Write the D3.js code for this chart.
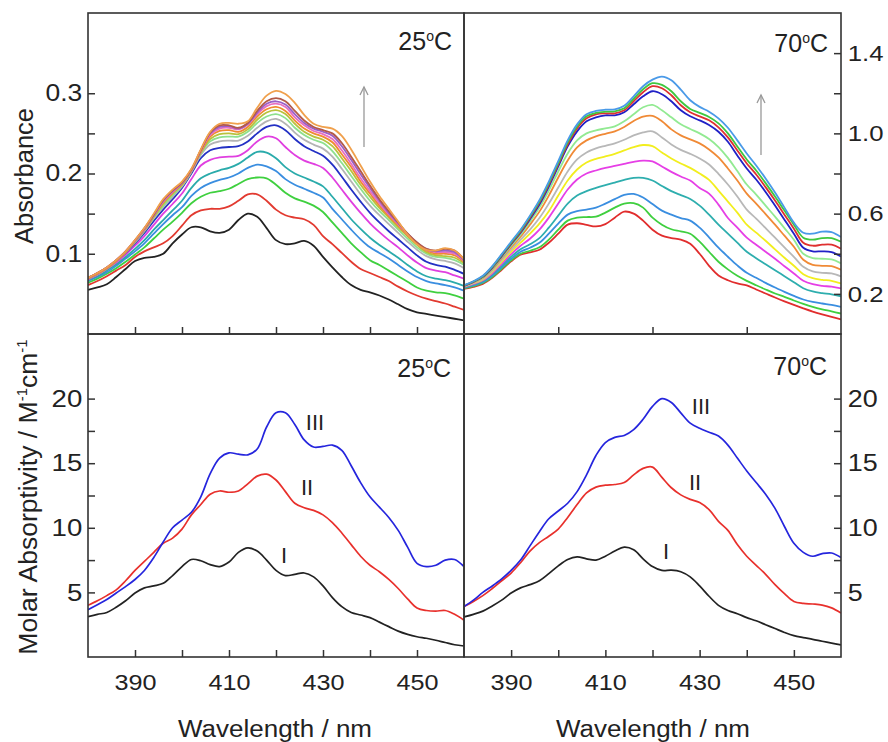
<!DOCTYPE html>
<html>
<head>
<meta charset="utf-8">
<script src="https://cdn.jsdelivr.net/npm/d3@7"></script>
<style>
  body { margin: 0; background: #fff; }
  text { font-family: "Liberation Sans", Arial, sans-serif; fill: #222; }
</style>
</head>
<body>
<svg id="chart" width="888" height="742"></svg>
<script>
// wavelength grid (nm)
var wavelength = [380,382,384,386,388,390,392,394,396,398,400,402,404,406,408,410,412,414,416,418,420,
                  422,424,426,428,430,432,434,436,438,440,442,444,446,448,450,452,454,456,458,460];

// ---- 25 C absorbance spectra (top left) ----
var a25_black = [0.055,0.058,0.062,0.071,0.081,0.091,0.095,0.096,0.100,0.113,0.124,0.133,0.133,0.128,0.126,0.130,0.142,0.150,0.146,0.132,0.117,0.112,0.113,0.116,0.110,0.096,0.083,0.071,0.061,0.055,0.052,0.048,0.043,0.037,0.031,0.027,0.025,0.023,0.021,0.019,0.017];
var a25_red = [0.061,0.066,0.072,0.079,0.086,0.096,0.103,0.108,0.113,0.122,0.135,0.148,0.154,0.156,0.156,0.159,0.166,0.174,0.174,0.166,0.155,0.148,0.145,0.143,0.136,0.122,0.112,0.101,0.090,0.081,0.076,0.071,0.066,0.059,0.053,0.048,0.044,0.041,0.038,0.034,0.030];
var a25_green = [0.064,0.069,0.075,0.082,0.090,0.099,0.108,0.119,0.130,0.140,0.151,0.163,0.171,0.176,0.178,0.181,0.187,0.193,0.195,0.194,0.186,0.176,0.169,0.165,0.160,0.152,0.139,0.126,0.113,0.102,0.092,0.086,0.079,0.072,0.065,0.058,0.054,0.052,0.051,0.048,0.044];
var a25_steel = [0.066,0.071,0.077,0.085,0.094,0.103,0.113,0.125,0.137,0.148,0.158,0.172,0.182,0.188,0.192,0.195,0.200,0.207,0.211,0.209,0.203,0.193,0.186,0.181,0.176,0.170,0.156,0.143,0.130,0.118,0.108,0.101,0.094,0.086,0.078,0.071,0.066,0.063,0.061,0.058,0.054];
var a25_teal = [0.067,0.072,0.079,0.087,0.096,0.106,0.117,0.130,0.142,0.154,0.166,0.182,0.194,0.200,0.204,0.207,0.212,0.220,0.227,0.226,0.219,0.208,0.200,0.195,0.190,0.184,0.171,0.157,0.143,0.131,0.120,0.111,0.103,0.095,0.086,0.078,0.072,0.069,0.067,0.064,0.060];
var a25_magenta = [0.068,0.074,0.081,0.089,0.099,0.110,0.122,0.136,0.150,0.162,0.175,0.193,0.210,0.217,0.220,0.221,0.222,0.229,0.240,0.246,0.244,0.233,0.223,0.216,0.212,0.207,0.195,0.180,0.165,0.151,0.138,0.127,0.117,0.108,0.098,0.089,0.082,0.079,0.077,0.073,0.069];
var a25_navy = [0.069,0.075,0.082,0.091,0.101,0.113,0.126,0.141,0.155,0.168,0.182,0.200,0.219,0.229,0.232,0.233,0.234,0.240,0.250,0.258,0.260,0.254,0.243,0.234,0.228,0.222,0.211,0.196,0.180,0.165,0.151,0.139,0.128,0.118,0.108,0.098,0.090,0.086,0.084,0.080,0.075];
var a25_gray = [0.069,0.075,0.082,0.091,0.102,0.114,0.128,0.144,0.158,0.171,0.184,0.202,0.223,0.236,0.240,0.241,0.241,0.247,0.257,0.265,0.268,0.262,0.251,0.242,0.236,0.231,0.221,0.206,0.190,0.174,0.160,0.148,0.137,0.126,0.115,0.105,0.097,0.093,0.091,0.088,0.082];
var a25_lime = [0.069,0.075,0.082,0.091,0.102,0.115,0.129,0.145,0.160,0.173,0.185,0.203,0.225,0.240,0.245,0.246,0.246,0.252,0.263,0.271,0.274,0.269,0.257,0.248,0.242,0.238,0.228,0.213,0.197,0.181,0.166,0.153,0.142,0.130,0.119,0.108,0.100,0.096,0.095,0.092,0.086];
var a25_olive = [0.069,0.075,0.082,0.091,0.102,0.115,0.130,0.146,0.162,0.175,0.186,0.203,0.226,0.243,0.249,0.250,0.249,0.255,0.267,0.276,0.279,0.274,0.262,0.252,0.246,0.242,0.234,0.219,0.203,0.186,0.171,0.157,0.145,0.133,0.122,0.111,0.102,0.098,0.097,0.095,0.088];
var a25_orange = [0.069,0.075,0.082,0.091,0.102,0.116,0.130,0.147,0.164,0.176,0.187,0.204,0.227,0.246,0.253,0.254,0.252,0.258,0.271,0.280,0.283,0.278,0.266,0.256,0.250,0.246,0.239,0.224,0.208,0.190,0.175,0.160,0.147,0.135,0.123,0.112,0.104,0.100,0.100,0.098,0.090];
var a25_pink = [0.070,0.076,0.083,0.092,0.103,0.116,0.131,0.148,0.165,0.177,0.188,0.204,0.228,0.248,0.256,0.257,0.255,0.261,0.274,0.284,0.287,0.283,0.270,0.260,0.253,0.249,0.243,0.229,0.212,0.194,0.178,0.163,0.149,0.137,0.124,0.113,0.105,0.102,0.102,0.100,0.091];
var a25_purple = [0.070,0.076,0.083,0.092,0.103,0.116,0.131,0.148,0.166,0.178,0.188,0.205,0.229,0.250,0.258,0.259,0.256,0.262,0.276,0.287,0.290,0.286,0.274,0.263,0.256,0.252,0.247,0.234,0.217,0.199,0.182,0.166,0.151,0.138,0.125,0.114,0.106,0.103,0.104,0.102,0.092];
var a25_brown = [0.070,0.076,0.083,0.092,0.103,0.117,0.132,0.149,0.167,0.179,0.189,0.205,0.229,0.251,0.260,0.260,0.257,0.263,0.278,0.290,0.294,0.290,0.278,0.266,0.258,0.254,0.250,0.238,0.221,0.203,0.185,0.168,0.153,0.139,0.125,0.114,0.106,0.104,0.106,0.104,0.093];
var a25_tan = [0.070,0.076,0.083,0.092,0.103,0.117,0.132,0.150,0.168,0.180,0.190,0.206,0.230,0.252,0.262,0.263,0.262,0.265,0.282,0.297,0.303,0.299,0.288,0.273,0.262,0.258,0.256,0.247,0.230,0.210,0.190,0.172,0.156,0.140,0.124,0.112,0.105,0.104,0.107,0.104,0.093];

var series25 = [a25_black, a25_red, a25_green, a25_steel, a25_teal, a25_magenta, a25_navy, a25_gray,
                a25_lime, a25_olive, a25_orange, a25_pink, a25_purple, a25_brown, a25_tan];
var colors25 = ["#222222","#e23a30","#3fd03f","#3a8ee0","#2aabab","#e03fe0","#2330c4","#b4b4b4",
                "#8ee08e","#b9c23c","#f08a30","#e86fc0","#9a5fc8","#b35a48","#f0a04c"];

// ---- 70 C absorbance spectra (top right) ----
var a70_red = [0.225,0.235,0.250,0.280,0.320,0.362,0.395,0.407,0.420,0.455,0.500,0.545,0.552,0.544,0.536,0.548,0.580,0.610,0.600,0.565,0.520,0.490,0.478,0.470,0.450,0.400,0.340,0.292,0.268,0.252,0.242,0.222,0.202,0.182,0.163,0.145,0.128,0.112,0.098,0.085,0.073];
var a70_green = [0.228,0.238,0.254,0.284,0.325,0.367,0.400,0.415,0.432,0.470,0.520,0.565,0.580,0.583,0.585,0.605,0.630,0.650,0.652,0.630,0.580,0.545,0.522,0.512,0.500,0.460,0.410,0.360,0.322,0.290,0.265,0.243,0.222,0.202,0.185,0.167,0.150,0.135,0.123,0.113,0.102];
var a70_steel = [0.230,0.242,0.258,0.290,0.332,0.375,0.410,0.430,0.455,0.500,0.550,0.595,0.612,0.620,0.630,0.650,0.672,0.693,0.698,0.680,0.648,0.615,0.595,0.578,0.565,0.530,0.482,0.430,0.385,0.342,0.305,0.280,0.255,0.232,0.210,0.190,0.172,0.160,0.152,0.145,0.135];
var a70_teal = [0.232,0.246,0.262,0.296,0.340,0.385,0.422,0.447,0.478,0.530,0.590,0.650,0.690,0.712,0.728,0.742,0.755,0.768,0.778,0.778,0.765,0.738,0.712,0.692,0.673,0.640,0.595,0.545,0.500,0.455,0.410,0.378,0.348,0.318,0.288,0.258,0.228,0.212,0.204,0.198,0.188];
var a70_magenta = [0.235,0.250,0.268,0.303,0.350,0.398,0.440,0.475,0.520,0.580,0.650,0.720,0.770,0.800,0.815,0.828,0.838,0.848,0.858,0.864,0.860,0.835,0.808,0.785,0.765,0.728,0.700,0.645,0.578,0.530,0.480,0.445,0.410,0.375,0.338,0.302,0.265,0.248,0.240,0.236,0.227];
var a70_yellow = [0.237,0.253,0.272,0.310,0.360,0.410,0.455,0.500,0.550,0.612,0.690,0.765,0.820,0.855,0.873,0.885,0.898,0.915,0.932,0.942,0.936,0.905,0.875,0.850,0.828,0.800,0.768,0.715,0.660,0.605,0.545,0.505,0.465,0.422,0.380,0.340,0.298,0.278,0.270,0.265,0.252];
var a70_gray = [0.238,0.255,0.275,0.315,0.368,0.420,0.470,0.520,0.578,0.650,0.730,0.810,0.870,0.905,0.925,0.938,0.950,0.968,0.990,1.005,1.010,0.980,0.945,0.918,0.898,0.875,0.845,0.798,0.745,0.685,0.620,0.575,0.528,0.480,0.432,0.385,0.335,0.312,0.305,0.302,0.287];
var a70_orange = [0.240,0.258,0.280,0.322,0.378,0.432,0.485,0.545,0.610,0.690,0.780,0.865,0.930,0.965,0.985,0.998,1.010,1.032,1.062,1.083,1.087,1.060,1.020,0.990,0.970,0.950,0.920,0.880,0.825,0.765,0.700,0.650,0.598,0.545,0.490,0.435,0.370,0.345,0.340,0.338,0.320];
var a70_lime = [0.240,0.259,0.282,0.326,0.383,0.440,0.495,0.560,0.630,0.715,0.810,0.900,0.965,1.000,1.015,1.025,1.035,1.060,1.095,1.130,1.142,1.115,1.080,1.045,1.022,1.000,0.972,0.932,0.878,0.812,0.745,0.695,0.640,0.585,0.528,0.470,0.400,0.378,0.375,0.372,0.352];
var a70_navy = [0.240,0.260,0.285,0.330,0.388,0.448,0.505,0.572,0.645,0.735,0.835,0.935,1.010,1.060,1.080,1.090,1.090,1.105,1.145,1.185,1.210,1.195,1.160,1.115,1.085,1.065,1.042,1.008,0.958,0.890,0.825,0.770,0.708,0.640,0.570,0.500,0.430,0.412,0.412,0.408,0.386];
var a70_red2 = [0.241,0.261,0.287,0.333,0.392,0.452,0.510,0.580,0.655,0.745,0.845,0.945,1.025,1.075,1.095,1.100,1.100,1.115,1.160,1.205,1.235,1.225,1.190,1.140,1.105,1.085,1.065,1.030,0.980,0.915,0.850,0.795,0.732,0.665,0.595,0.525,0.455,0.440,0.445,0.445,0.425];
var a70_green2 = [0.242,0.262,0.288,0.335,0.395,0.455,0.515,0.585,0.660,0.752,0.852,0.955,1.035,1.085,1.102,1.108,1.110,1.125,1.172,1.220,1.250,1.242,1.210,1.160,1.122,1.102,1.082,1.050,1.000,0.935,0.870,0.815,0.752,0.685,0.615,0.545,0.480,0.470,0.478,0.478,0.460];
var a70_blue = [0.243,0.263,0.290,0.338,0.398,0.460,0.520,0.590,0.667,0.760,0.862,0.965,1.045,1.095,1.112,1.118,1.120,1.138,1.185,1.235,1.268,1.283,1.265,1.218,1.165,1.132,1.108,1.075,1.028,0.965,0.900,0.840,0.775,0.705,0.630,0.555,0.505,0.500,0.510,0.508,0.483];

var series70 = [a70_red, a70_green, a70_steel, a70_teal, a70_magenta, a70_yellow, a70_gray,
                a70_orange, a70_lime, a70_navy, a70_red2, a70_green2, a70_blue];
var colors70 = ["#e12d2d","#3fcf3f","#3a8ee0","#2eaeae","#e63fe6","#f2ee1e","#b8b8b8",
                "#f08a36","#92ea92","#2020c6","#df3030","#3fc83f","#4a9ae8"];

// ---- molar absorptivity (bottom), species I, II, III ----
var e25_I = [3.12,3.30,3.45,3.85,4.35,4.95,5.35,5.50,5.70,6.30,7.00,7.55,7.45,7.15,7.00,7.35,8.10,8.45,8.20,7.50,6.70,6.30,6.40,6.50,6.20,5.50,4.60,3.90,3.45,3.25,3.05,2.70,2.35,2.00,1.75,1.57,1.45,1.30,1.12,0.95,0.85];
var e25_II = [4.00,4.35,4.75,5.20,5.90,6.70,7.40,8.10,8.80,9.20,9.90,11.00,11.80,12.60,12.85,12.75,12.85,13.40,14.00,14.15,13.70,12.80,11.90,11.55,11.35,11.00,10.40,9.60,8.70,7.80,7.10,6.60,6.00,5.30,4.50,3.80,3.60,3.55,3.60,3.30,2.85];
var e25_III = [3.65,4.05,4.45,4.95,5.45,6.00,6.70,7.70,8.90,10.00,10.60,11.20,12.40,14.20,15.40,15.80,15.70,15.65,16.10,17.80,18.90,18.90,18.00,16.80,16.25,16.30,16.40,16.00,14.80,13.50,12.40,11.60,10.80,9.80,8.50,7.25,7.00,7.10,7.50,7.55,7.00];
var e70_I = [3.10,3.30,3.55,3.95,4.40,4.95,5.35,5.60,5.90,6.45,7.05,7.55,7.75,7.60,7.50,7.80,8.20,8.50,8.30,7.60,7.00,6.70,6.72,6.60,6.20,5.50,4.70,4.00,3.60,3.35,3.05,2.80,2.50,2.20,1.90,1.65,1.50,1.37,1.22,1.08,0.93];
var e70_II = [3.90,4.30,4.75,5.30,5.90,6.50,7.30,8.20,8.85,9.35,9.90,10.80,11.80,12.70,13.15,13.30,13.35,13.50,14.10,14.60,14.70,13.90,13.10,12.55,12.20,11.95,11.40,10.50,9.80,8.70,7.80,7.10,6.40,5.60,4.90,4.30,4.15,4.10,4.02,3.80,3.40];
var e70_III = [3.90,4.40,5.00,5.50,6.05,6.70,7.50,8.60,9.70,10.70,11.30,11.90,12.80,14.10,15.60,16.60,17.00,17.15,17.60,18.40,19.40,20.00,19.70,18.90,18.10,17.70,17.40,17.10,16.40,15.40,14.40,13.50,12.60,11.50,10.10,8.80,8.10,7.80,8.00,8.05,7.70];
var speciesColors = ["#222222","#e8302c","#2525dd"];

// panel edges
var L = 88, M = 464, R = 841, T = 13, H = 334, B = 657;

var svg = d3.select("#chart");

var xLeft = d3.scaleLinear().domain([380, 460]).range([L, M]);
var xRight = d3.scaleLinear().domain([380, 460]).range([M, R]);
var yTL = d3.scaleLinear().domain([0, 0.4]).range([H, T]);
var yTR = d3.scaleLinear().domain([0, 1.6]).range([H, T]);
var yBL = d3.scaleLinear().domain([0, 25]).range([B, H]);
var yBR = d3.scaleLinear().domain([0, 25]).range([B, H]);

function drawPanel(id, x, y, list, colors, width) {
	var x0 = x.range()[0], x1 = x.range()[1];
	var y0 = y.range()[1], y1 = y.range()[0];
	svg.append("clipPath").attr("id", id)
		.append("rect").attr("x", x0).attr("y", y0).attr("width", x1 - x0).attr("height", y1 - y0);

	var line = d3.line()
		.x(function(d, i) { return x(wavelength[i]); })
		.y(function(d) { return y(d); })
		.curve(d3.curveCatmullRom.alpha(0.5));

	svg.append("g").attr("clip-path", "url(#" + id + ")")
		.selectAll("path")
		.data(list)
		.enter()
		.append("path")
		.attr("d", line)
		.attr("fill", "none")
		.attr("stroke", function(d, i) { return colors[i]; })
		.attr("stroke-width", width)
		.attr("stroke-linejoin", "round");

	svg.append("rect")
		.attr("x", x0).attr("y", y0).attr("width", x1 - x0).attr("height", y1 - y0)
		.attr("fill", "none").attr("stroke", "#333").attr("stroke-width", 1.6);
}

drawPanel("cTL", xLeft, yTL, series25, colors25, 1.8);
drawPanel("cTR", xRight, yTR, series70, colors70, 1.8);
drawPanel("cBL", xLeft, yBL, [e25_I, e25_II, e25_III], speciesColors, 1.7);
drawPanel("cBR", xRight, yBR, [e70_I, e70_II, e70_III], speciesColors, 1.7);

// axes (labels in the figure are a little wider than the font, hence the x stretch)
function styleAxis(g, size, stretch) {
	g.select(".domain").remove();
	g.selectAll(".tick line").attr("stroke", "#333").attr("stroke-width", 1.5);
	g.selectAll("text").style("font-size", size + "px").attr("fill", "#222")
		.attr("transform", "scale(" + stretch + ",1)");
}
function pick(list) {
	return function(d) {
		for (var i = 0; i < list.length; i++) {
			if (Math.abs(list[i] - d) < 1e-6) return list[i] % 1 === 0 && list[i] > 2 ? String(list[i]) : list[i].toFixed(1);
		}
		return "";
	};
}

var xTicks = [390, 400, 410, 420, 430, 440, 450];

svg.append("g").attr("transform", "translate(0," + H + ")")
	.call(d3.axisBottom(xLeft).tickValues(xTicks).tickSizeInner(-7).tickSizeOuter(0).tickFormat(""))
	.call(styleAxis, 22, 1);
svg.append("g").attr("transform", "translate(0," + H + ")")
	.call(d3.axisBottom(xRight).tickValues([400, 420, 440]).tickSizeInner(-7).tickSizeOuter(0).tickFormat(""))
	.call(styleAxis, 22, 1);
svg.append("g").attr("transform", "translate(0," + B + ")")
	.call(d3.axisBottom(xLeft).tickValues(xTicks).tickSizeInner(-7).tickSizeOuter(0).tickPadding(17)
		.tickFormat(pick([390, 410, 430, 450])))
	.call(styleAxis, 22.5, 1.12);
svg.append("g").attr("transform", "translate(0," + B + ")")
	.call(d3.axisBottom(xRight).tickValues(xTicks).tickSizeInner(-7).tickSizeOuter(0).tickPadding(17)
		.tickFormat(pick([390, 410, 430, 450])))
	.call(styleAxis, 22.5, 1.12);

svg.append("g").attr("transform", "translate(" + L + ",0)")
	.call(d3.axisLeft(yTL).tickValues([0.1, 0.15, 0.2, 0.25, 0.3]).tickSizeInner(-7).tickSizeOuter(0).tickPadding(5)
		.tickFormat(pick([0.1, 0.2, 0.3])))
	.call(styleAxis, 23, 1.15);
svg.append("g").attr("transform", "translate(" + R + ",0)")
	.call(d3.axisRight(yTR).tickValues([0.2, 0.4, 0.6, 0.8, 1.0, 1.2, 1.4]).tickSizeInner(-7).tickSizeOuter(0).tickPadding(6)
		.tickFormat(pick([0.2, 0.6, 1.0, 1.4])))
	.call(styleAxis, 23, 1.12);
svg.append("g").attr("transform", "translate(" + L + ",0)")
	.call(d3.axisLeft(yBL).tickValues([5, 7.5, 10, 12.5, 15, 17.5, 20]).tickSizeInner(-7).tickSizeOuter(0).tickPadding(5)
		.tickFormat(pick([5, 10, 15, 20])))
	.call(styleAxis, 24, 1.15);
svg.append("g").attr("transform", "translate(" + R + ",0)")
	.call(d3.axisRight(yBR).tickValues([5, 7.5, 10, 12.5, 15, 17.5, 20]).tickSizeInner(-7).tickSizeOuter(0).tickPadding(6)
		.tickFormat(pick([5, 10, 15, 20])))
	.call(styleAxis, 24, 1.12);

// temperature labels
function tempLabel(x, y, num) {
	var t = svg.append("text").attr("x", x).attr("y", y).attr("text-anchor", "end").style("font-size", "25px");
	t.append("tspan").text(num);
	t.append("tspan").attr("dy", -9).style("font-size", "14px").text("o");
	t.append("tspan").attr("dy", 9).text("C");
}
tempLabel(452, 50, "25");
tempLabel(828, 52, "70");
tempLabel(451, 377, "25");
tempLabel(827, 375, "70");

// concentration arrows
function arrow(x, yBottom, yTop) {
	svg.append("line").attr("x1", x).attr("x2", x).attr("y1", yBottom).attr("y2", yTop)
		.attr("stroke", "#999").attr("stroke-width", 1.3);
	svg.append("path")
		.attr("d", "M" + (x - 4) + "," + (yTop + 8) + "L" + x + "," + yTop + "L" + (x + 4) + "," + (yTop + 8))
		.attr("fill", "none").attr("stroke", "#999").attr("stroke-width", 1.3);
}
arrow(364, 147, 87);
arrow(761, 155, 95);

// species labels
var speciesNames = ["I", "II", "III"];
var speciesPos25 = [[284, 563], [307, 495], [315, 430]];
var speciesPos70 = [[666, 559], [695, 490], [701, 414]];
speciesNames.forEach(function(s, i) {
	svg.append("text").attr("x", speciesPos25[i][0]).attr("y", speciesPos25[i][1])
		.attr("text-anchor", "middle").style("font-size", "22px").text(s);
	svg.append("text").attr("x", speciesPos70[i][0]).attr("y", speciesPos70[i][1])
		.attr("text-anchor", "middle").style("font-size", "22px").text(s);
});

// axis titles
svg.append("text").attr("transform", "translate(33,176) rotate(-90)")
	.attr("text-anchor", "middle").style("font-size", "25.5px").text("Absorbance");

var molar = svg.append("text").attr("transform", "translate(37,497) rotate(-90)")
	.attr("text-anchor", "middle").style("font-size", "26.5px");
molar.append("tspan").text("Molar Absorptivity / M");
molar.append("tspan").attr("dy", -10).style("font-size", "15px").text("-1");
molar.append("tspan").attr("dy", 10).text("cm");
molar.append("tspan").attr("dy", -10).style("font-size", "15px").text("-1");

svg.append("text").attr("transform", "translate(275,737) scale(1.13,1)").attr("text-anchor", "middle")
	.style("font-size", "23px").text("Wavelength / nm");
svg.append("text").attr("transform", "translate(653,737) scale(1.13,1)").attr("text-anchor", "middle")
	.style("font-size", "23px").text("Wavelength / nm");
</script>
</body>
</html>
